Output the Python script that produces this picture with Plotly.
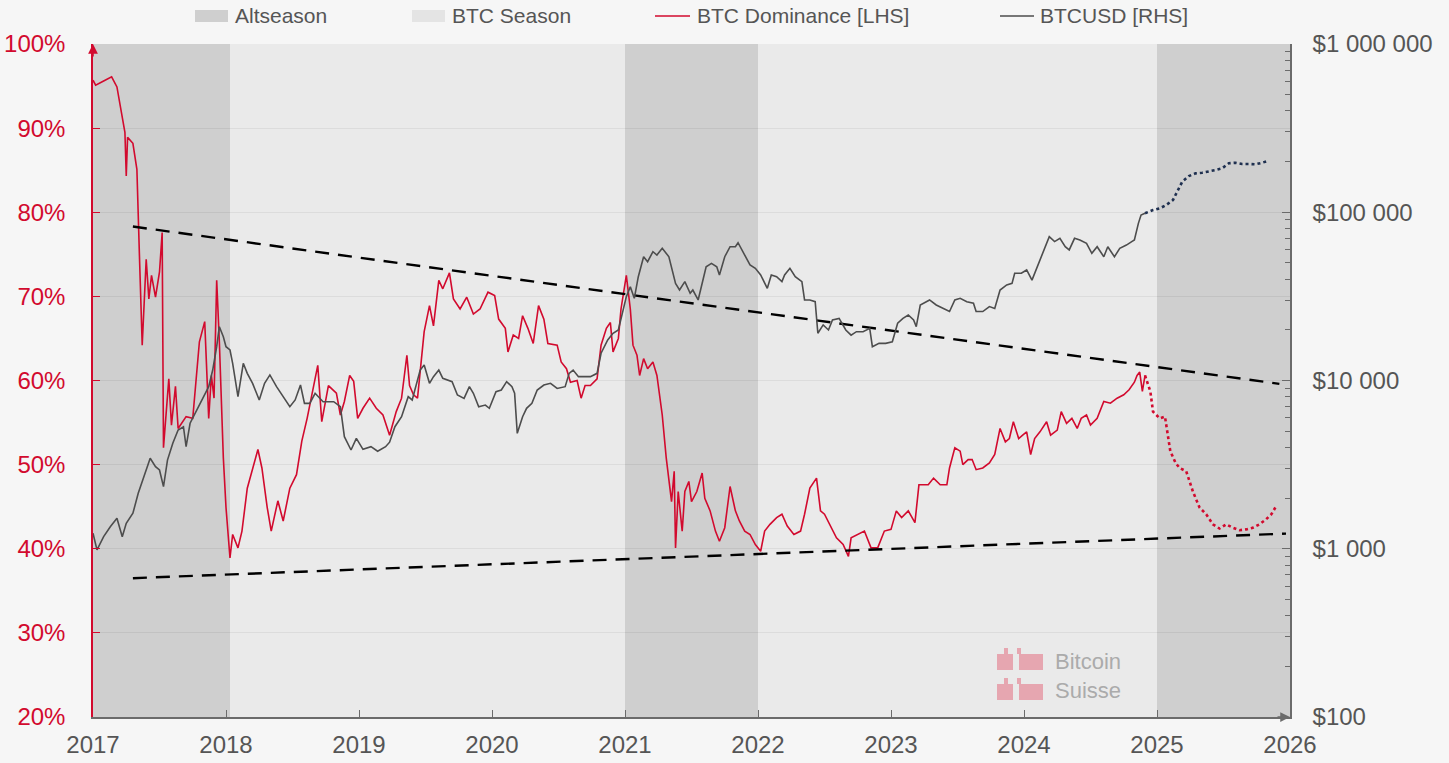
import plotly.graph_objects as go

# ---------------- data ----------------
dom_years = [2017.00, 2017.02, 2017.08, 2017.14, 2017.18, 2017.22, 2017.24, 2017.25, 2017.26, 2017.30,
             2017.33, 2017.35, 2017.37, 2017.40, 2017.42, 2017.44, 2017.47, 2017.50, 2017.52, 2017.53,
             2017.57, 2017.59, 2017.62, 2017.64, 2017.70, 2017.75, 2017.80, 2017.84, 2017.87, 2017.89,
             2017.91, 2017.93, 2017.95, 2017.98, 2018.00, 2018.03, 2018.05, 2018.09, 2018.12, 2018.16,
             2018.20, 2018.24, 2018.27, 2018.31, 2018.34, 2018.39, 2018.43, 2018.48, 2018.53, 2018.57,
             2018.61, 2018.64, 2018.69, 2018.72, 2018.77, 2018.83, 2018.86, 2018.89, 2018.93, 2018.96,
             2018.99, 2019.03, 2019.08, 2019.13, 2019.18, 2019.23, 2019.28, 2019.32, 2019.36, 2019.38,
             2019.41, 2019.44, 2019.47, 2019.49, 2019.53, 2019.56, 2019.60, 2019.63, 2019.68, 2019.71,
             2019.76, 2019.81, 2019.86, 2019.91, 2019.97, 2020.02, 2020.05, 2020.10, 2020.12, 2020.16,
             2020.20, 2020.23, 2020.27, 2020.31, 2020.35, 2020.39, 2020.42, 2020.49, 2020.52, 2020.56,
             2020.59, 2020.64, 2020.67, 2020.70, 2020.74, 2020.79, 2020.82, 2020.86, 2020.89, 2020.91,
             2020.95, 2020.97, 2021.01, 2021.04, 2021.06, 2021.09, 2021.11, 2021.14, 2021.17, 2021.21,
             2021.24, 2021.28, 2021.31, 2021.35, 2021.37, 2021.38, 2021.40, 2021.43, 2021.45, 2021.48,
             2021.50, 2021.54, 2021.58, 2021.60, 2021.64, 2021.68, 2021.71, 2021.75, 2021.79, 2021.83,
             2021.86, 2021.90, 2021.94, 2021.98, 2022.02, 2022.05, 2022.09, 2022.14, 2022.18, 2022.22,
             2022.27, 2022.32, 2022.35, 2022.39, 2022.44, 2022.47, 2022.50, 2022.54, 2022.59, 2022.64,
             2022.68, 2022.70, 2022.75, 2022.80, 2022.85, 2022.90, 2022.95, 2023.00, 2023.04, 2023.08,
             2023.13, 2023.18, 2023.21, 2023.28, 2023.32, 2023.37, 2023.42, 2023.44, 2023.48, 2023.52,
             2023.54, 2023.58, 2023.61, 2023.64, 2023.69, 2023.74, 2023.78, 2023.82, 2023.86, 2023.89,
             2023.92, 2023.96, 2023.99, 2024.02, 2024.05, 2024.08, 2024.12, 2024.17, 2024.20, 2024.25,
             2024.28, 2024.32, 2024.36, 2024.40, 2024.43, 2024.47, 2024.50, 2024.55, 2024.60, 2024.65,
             2024.70, 2024.75, 2024.79, 2024.83, 2024.85, 2024.87, 2024.89, 2024.91]
dom_values = [95.7, 95.1, 95.6, 96.1, 94.9, 91.0, 89.5, 84.3, 88.9, 88.2,
              85.1, 74.4, 64.2, 74.4, 69.7, 72.5, 69.9, 72.9, 77.6, 52.0,
              60.2, 54.7, 59.3, 54.3, 55.7, 55.5, 64.6, 67.0, 55.5, 60.6,
              57.9, 71.9, 64.6, 50.8, 44.9, 38.9, 41.7, 40.1, 42.1, 47.2,
              49.6, 51.8, 49.6, 44.9, 42.1, 45.7, 43.3, 47.2, 48.8, 52.8,
              55.5, 57.9, 61.8, 55.1, 59.4, 58.5, 55.9, 57.5, 60.6, 59.9,
              55.5, 56.7, 57.9, 56.7, 55.9, 53.5, 56.3, 57.9, 63.0, 59.4,
              58.3, 57.9, 62.2, 65.8, 68.9, 66.5, 71.9, 70.9, 72.8, 69.7,
              68.5, 69.9, 67.9, 68.5, 70.5, 70.1, 67.3, 66.2, 63.4, 65.4,
              65.0, 67.7, 66.2, 64.4, 68.9, 67.3, 64.4, 64.2, 62.2, 61.4,
              59.8, 60.0, 57.9, 59.4, 59.4, 60.2, 64.2, 66.2, 66.9, 63.4,
              65.0, 68.5, 72.5, 68.5, 64.2, 63.0, 60.6, 62.6, 61.4, 62.2,
              60.6, 55.9, 50.8, 45.6, 49.2, 40.1, 46.8, 42.1, 46.8, 48.0,
              45.6, 46.8, 49.0, 46.0, 44.5, 42.1, 40.9, 42.5, 47.4, 44.5,
              43.3, 42.1, 41.7, 40.5, 39.7, 42.1, 42.9, 43.7, 44.1, 42.7,
              41.7, 42.1, 44.1, 47.2, 48.4, 44.5, 44.1, 42.9, 41.3, 40.5,
              39.1, 41.3, 41.7, 42.1, 40.1, 40.1, 42.1, 42.3, 44.5, 43.7,
              44.5, 43.1, 47.6, 47.6, 48.4, 47.6, 47.6, 49.6, 52.0, 51.6,
              50.0, 50.6, 50.6, 49.4, 49.6, 50.2, 51.2, 54.3, 52.7, 53.1,
              55.1, 53.1, 53.5, 53.9, 51.2, 53.1, 53.9, 55.1, 53.5, 54.1,
              56.3, 54.9, 55.5, 54.3, 55.5, 55.9, 54.7, 55.5, 57.5, 57.3,
              57.9, 58.3, 58.9, 59.8, 60.6, 61.0, 58.7, 60.6]

dom_fc_years = [2024.91, 2024.95, 2024.97, 2025.02, 2025.06, 2025.10, 2025.14, 2025.17, 2025.22, 2025.27,
                2025.32, 2025.37, 2025.42, 2025.47, 2025.52, 2025.57, 2025.62, 2025.67, 2025.72, 2025.77,
                2025.82, 2025.86, 2025.89]
dom_fc_values = [60.6, 58.7, 56.3, 55.5, 55.7, 51.6, 50.2, 49.6, 49.2, 46.8,
                 44.9, 44.1, 42.9, 42.4, 42.9, 42.5, 42.2, 42.3, 42.5, 42.9,
                 43.5, 44.1, 44.9]

btc_years = [2017.00, 2017.03, 2017.08, 2017.13, 2017.18, 2017.22, 2017.25, 2017.30, 2017.34, 2017.38,
             2017.43, 2017.47, 2017.50, 2017.53, 2017.56, 2017.60, 2017.64, 2017.68, 2017.70, 2017.73,
             2017.78, 2017.83, 2017.87, 2017.90, 2017.93, 2017.95, 2017.98, 2018.00, 2018.03, 2018.05,
             2018.09, 2018.13, 2018.16, 2018.20, 2018.25, 2018.29, 2018.33, 2018.38, 2018.43, 2018.48,
             2018.52, 2018.56, 2018.59, 2018.63, 2018.67, 2018.73, 2018.81, 2018.86, 2018.89, 2018.94,
             2018.98, 2019.03, 2019.09, 2019.14, 2019.20, 2019.23, 2019.27, 2019.32, 2019.37, 2019.40,
             2019.42, 2019.46, 2019.49, 2019.53, 2019.56, 2019.60, 2019.63, 2019.70, 2019.74, 2019.79,
             2019.83, 2019.86, 2019.90, 2019.95, 2019.98, 2020.03, 2020.07, 2020.11, 2020.15, 2020.17,
             2020.19, 2020.23, 2020.26, 2020.30, 2020.34, 2020.39, 2020.44, 2020.49, 2020.55, 2020.58,
             2020.61, 2020.65, 2020.69, 2020.74, 2020.79, 2020.82, 2020.87, 2020.91, 2020.95, 2020.98,
             2021.01, 2021.04, 2021.07, 2021.10, 2021.14, 2021.17, 2021.21, 2021.24, 2021.28, 2021.33,
             2021.38, 2021.41, 2021.45, 2021.49, 2021.51, 2021.55, 2021.58, 2021.61, 2021.65, 2021.69,
             2021.71, 2021.75, 2021.79, 2021.83, 2021.85, 2021.89, 2021.94, 2021.98, 2022.02, 2022.07,
             2022.10, 2022.14, 2022.18, 2022.20, 2022.24, 2022.28, 2022.33, 2022.35, 2022.39, 2022.43,
             2022.45, 2022.49, 2022.53, 2022.56, 2022.61, 2022.66, 2022.70, 2022.74, 2022.79, 2022.84,
             2022.86, 2022.91, 2022.96, 2023.01, 2023.05, 2023.09, 2023.13, 2023.17, 2023.19, 2023.22,
             2023.26, 2023.29, 2023.34, 2023.39, 2023.44, 2023.48, 2023.52, 2023.57, 2023.62, 2023.64,
             2023.69, 2023.74, 2023.78, 2023.82, 2023.87, 2023.91, 2023.93, 2023.98, 2024.02, 2024.06,
             2024.09, 2024.13, 2024.17, 2024.19, 2024.23, 2024.27, 2024.31, 2024.34, 2024.38, 2024.42,
             2024.47, 2024.51, 2024.55, 2024.60, 2024.63, 2024.68, 2024.72, 2024.77, 2024.81, 2024.83,
             2024.86, 2024.88, 2024.91]
btc_prices = [1236, 984, 1180, 1352, 1517, 1180, 1416, 1625, 2137, 2680,
              3449, 3076, 2938, 2339, 3366, 4234, 5082, 5313, 4042, 5571,
              6683, 8019, 9190, 11540, 15880, 20880, 18200, 15880, 15180, 12650,
              8019, 12650, 11030, 9620, 7660, 9620, 10790, 9190, 8019, 6985,
              7660, 9400, 7310, 7310, 8395, 7480, 7480, 6985, 4634, 3863,
              4530, 3900, 4042, 3800, 4042, 4300, 5313, 6095, 8019, 7660,
              8777, 11540, 12360, 9620, 10540, 11540, 10300, 9840, 8200, 7830,
              9190, 8395, 6985, 7145, 6835, 8590, 8777, 9840, 9190, 8395,
              4853, 6095, 6835, 7310, 8777, 9400, 9620, 8970, 9190, 11030,
              11540, 10540, 10540, 10540, 11030, 14520, 17420, 19090, 19970, 25100,
              31500, 36100, 30800, 41400, 54400, 50800, 58300, 55700, 61100, 54400,
              37800, 34500, 38700, 33000, 34500, 30100, 37800, 47400, 49700, 47400,
              42400, 54400, 62400, 62400, 65900, 57000, 48600, 46400, 42400, 35300,
              42400, 41400, 38700, 42400, 46400, 41400, 38700, 30100, 30100, 29400,
              19090, 21400, 19970, 22900, 23400, 19970, 18600, 19500, 19500, 20400,
              15880, 16630, 16630, 17000, 21900, 23400, 24500, 22900, 20900, 28100,
              29400, 30100, 28100, 26800, 25700, 30100, 30800, 29400, 28800, 25700,
              25700, 27500, 26800, 34500, 37000, 37800, 43400, 43400, 45400, 39500,
              45400, 54400, 65300, 71600, 66900, 70000, 62400, 59700, 70000, 68400,
              65300, 57000, 62400, 54400, 62400, 54400, 61100, 63800, 66900, 68400,
              85900, 96300, 98600]

btc_fc_years = [2024.91, 2024.97, 2025.02, 2025.07, 2025.12, 2025.16, 2025.19, 2025.24, 2025.29, 2025.34,
                2025.39, 2025.44, 2025.49, 2025.54, 2025.59, 2025.64, 2025.69, 2025.74, 2025.79, 2025.84]
btc_fc_prices = [98600, 103000, 105400, 110400, 118200, 135600, 152000, 164200, 170300, 171800,
                 174200, 178200, 182400, 195400, 196900, 193600, 193600, 192700, 196900, 202400]

trend_upper_years = [2017.30, 2025.92]
trend_upper_values = [78.3, 59.6]
trend_lower_years = [2017.30, 2025.97]
trend_lower_values = [36.5, 41.8]

season_starts = [2017.0, 2018.03, 2021.0, 2022.0, 2025.0]
season_ends = [2018.03, 2021.0, 2022.0, 2025.0, 2026.0]
season_kinds = ["Altseason", "BTC Season", "Altseason", "BTC Season", "Altseason"]

year_ticks = list(range(2017, 2027))
dom_ticks = [20, 30, 40, 50, 60, 70, 80, 90, 100]
price_ticks = [100, 1000, 10000, 100000, 1000000]
price_labels = ["$100", "$1 000", "$10 000", "$100 000", "$1 000 000"]

# ---------------- style ----------------
RED = "#d20a2e"
GREY_LINE = "#4d4d4d"
NAVY = "#1f3050"
AXIS_GREY = "#6b6b6b"
TEXT_GREY = "#555555"
SEASON_COLORS = {"Altseason": "#cfcfcf", "BTC Season": "#eaeaea"}
FONT = "Liberation Sans, Arial, sans-serif"

W, H = 1449, 763
# plot area in screen pixels
SX0, SX1, SY0, SY1 = 93, 1290, 44, 717
L, T = SX0, SY0
R, B = W - SX1, H - SY1
PW, PH = SX1 - SX0, SY1 - SY0


def px(x):
    return (x - SX0) / PW


def py(y):
    return (SY1 - y) / PH


minor_price_ticks = [k * t for t in price_ticks[:-1] for k in range(2, 10)]

fig = go.Figure()

fig.add_trace(go.Scatter(x=btc_years, y=btc_prices, yaxis="y2", mode="lines",
                         line=dict(color=GREY_LINE, width=1.6), name="BTCUSD [RHS]"))
fig.add_trace(go.Scatter(x=btc_fc_years, y=btc_fc_prices, yaxis="y2", mode="lines",
                         line=dict(color=NAVY, width=2.6, dash="dot"), name="BTCUSD forecast"))
fig.add_trace(go.Scatter(x=dom_years, y=dom_values, mode="lines",
                         line=dict(color=RED, width=1.6), name="BTC Dominance [LHS]"))
fig.add_trace(go.Scatter(x=dom_fc_years, y=dom_fc_values, mode="lines",
                         line=dict(color=RED, width=2.6, dash="dot"), name="BTC Dominance forecast"))
fig.add_trace(go.Scatter(x=trend_upper_years, y=trend_upper_values, mode="lines",
                         line=dict(color="black", width=2.4, dash="14px,9px"), name="upper trend"))
fig.add_trace(go.Scatter(x=trend_lower_years, y=trend_lower_values, mode="lines",
                         line=dict(color="black", width=2.4, dash="14px,9px"), name="lower trend"))

shapes = []
for s, e, k in zip(season_starts, season_ends, season_kinds):
    shapes.append(dict(type="rect", xref="x", yref="paper", x0=s, x1=e, y0=0, y1=1,
                       fillcolor=SEASON_COLORS[k], line=dict(width=0), layer="below"))

# manual legend
leg_y = py(16)
shapes.append(dict(type="rect", xref="paper", yref="paper", x0=px(195), x1=px(228),
                   y0=py(22), y1=py(10), fillcolor=SEASON_COLORS["Altseason"], line=dict(width=0)))
shapes.append(dict(type="rect", xref="paper", yref="paper", x0=px(412), x1=px(445),
                   y0=py(22), y1=py(10), fillcolor="#e4e4e4", line=dict(width=0)))
shapes.append(dict(type="line", xref="paper", yref="paper", x0=px(655), x1=px(690),
                   y0=leg_y, y1=leg_y, line=dict(color=RED, width=1.6)))
shapes.append(dict(type="line", xref="paper", yref="paper", x0=px(1000), x1=px(1034),
                   y0=leg_y, y1=leg_y, line=dict(color=GREY_LINE, width=1.6)))

# watermark logo (approximate)
PINK = "rgba(226,110,128,0.55)"
for top in (648, 678):
    shapes.append(dict(type="rect", xref="paper", yref="paper", x0=px(997), x1=px(1013),
                       y0=py(top + 22), y1=py(top + 6), fillcolor=PINK, line=dict(width=0)))
    shapes.append(dict(type="rect", xref="paper", yref="paper", x0=px(1019), x1=px(1043),
                       y0=py(top + 22), y1=py(top + 6), fillcolor=PINK, line=dict(width=0)))
    shapes.append(dict(type="rect", xref="paper", yref="paper", x0=px(1004), x1=px(1008),
                       y0=py(top + 6), y1=py(top), fillcolor=PINK, line=dict(width=0)))
    shapes.append(dict(type="rect", xref="paper", yref="paper", x0=px(1017), x1=px(1021),
                       y0=py(top + 6), y1=py(top), fillcolor=PINK, line=dict(width=0)))

annotations = [
    dict(text="Altseason", xref="paper", yref="paper", x=px(233), y=leg_y, xanchor="left",
         yanchor="middle", showarrow=False, font=dict(size=21, color=TEXT_GREY, family=FONT)),
    dict(text="BTC Season", xref="paper", yref="paper", x=px(450), y=leg_y, xanchor="left",
         yanchor="middle", showarrow=False, font=dict(size=21, color=TEXT_GREY, family=FONT)),
    dict(text="BTC Dominance [LHS]", xref="paper", yref="paper", x=px(695), y=leg_y, xanchor="left",
         yanchor="middle", showarrow=False, font=dict(size=21, color=TEXT_GREY, family=FONT)),
    dict(text="BTCUSD [RHS]", xref="paper", yref="paper", x=px(1038), y=leg_y, xanchor="left",
         yanchor="middle", showarrow=False, font=dict(size=21, color=TEXT_GREY, family=FONT)),
    dict(text="Bitcoin<br>Suisse", xref="paper", yref="paper", x=px(1053), y=py(676),
         xanchor="left", yanchor="middle", align="left", showarrow=False,
         font=dict(size=22, color="#ababab", family=FONT)),
    # axis arrows
    dict(x=2017, y=100, xref="x", yref="y", ax=0, ay=14, text="", showarrow=True,
         arrowhead=2, arrowsize=1.3, arrowwidth=1.5, arrowcolor=RED),
    dict(x=2026, y=20, xref="x", yref="y", ax=-14, ay=0, text="", showarrow=True,
         arrowhead=2, arrowsize=1.3, arrowwidth=1.5, arrowcolor=AXIS_GREY),
]

fig.update_layout(
    width=W, height=H,
    margin=dict(l=L, r=R, t=T, b=B, pad=0, autoexpand=False),
    paper_bgcolor="#f6f6f6",
    plot_bgcolor="#eaeaea",
    showlegend=False,
    font=dict(family=FONT, color=TEXT_GREY),
    shapes=shapes,
    annotations=annotations,
    xaxis=dict(range=[2017, 2026], tickvals=year_ticks, ticktext=[str(t) for t in year_ticks],
               showline=True, linecolor=AXIS_GREY, linewidth=1.5, ticks="inside", ticklen=7,
               tickcolor=AXIS_GREY, showgrid=False, zeroline=False, automargin=False,
               tickfont=dict(size=24, color=TEXT_GREY), ticklabelstandoff=5),
    yaxis=dict(range=[20, 100], tickvals=dom_ticks, ticktext=[f"{t}%" for t in dom_ticks],
               showline=True, linecolor=RED, linewidth=1.5, ticks="inside", ticklen=7,
               tickcolor=RED, showgrid=True, gridcolor="rgba(0,0,0,0.06)", gridwidth=1,
               zeroline=False, automargin=False, tickfont=dict(size=24, color=RED),
               ticklabelstandoff=21),
    yaxis2=dict(type="log", range=[2, 6], overlaying="y", side="right",
                tickvals=price_ticks, ticktext=price_labels, automargin=False,
                showline=True, linecolor=AXIS_GREY, linewidth=1.5, ticks="inside", ticklen=8,
                tickcolor=AXIS_GREY, showgrid=False, zeroline=False,
                minor=dict(tickvals=minor_price_ticks, ticks="inside", ticklen=5,
                           tickcolor=AXIS_GREY, showgrid=False),
                tickfont=dict(size=24, color=TEXT_GREY), ticklabelstandoff=16),
)

fig.write_html("out.html", config={"displayModeBar": False},
               post_script="document.body.style.margin='0';document.body.style.overflow='hidden';")
